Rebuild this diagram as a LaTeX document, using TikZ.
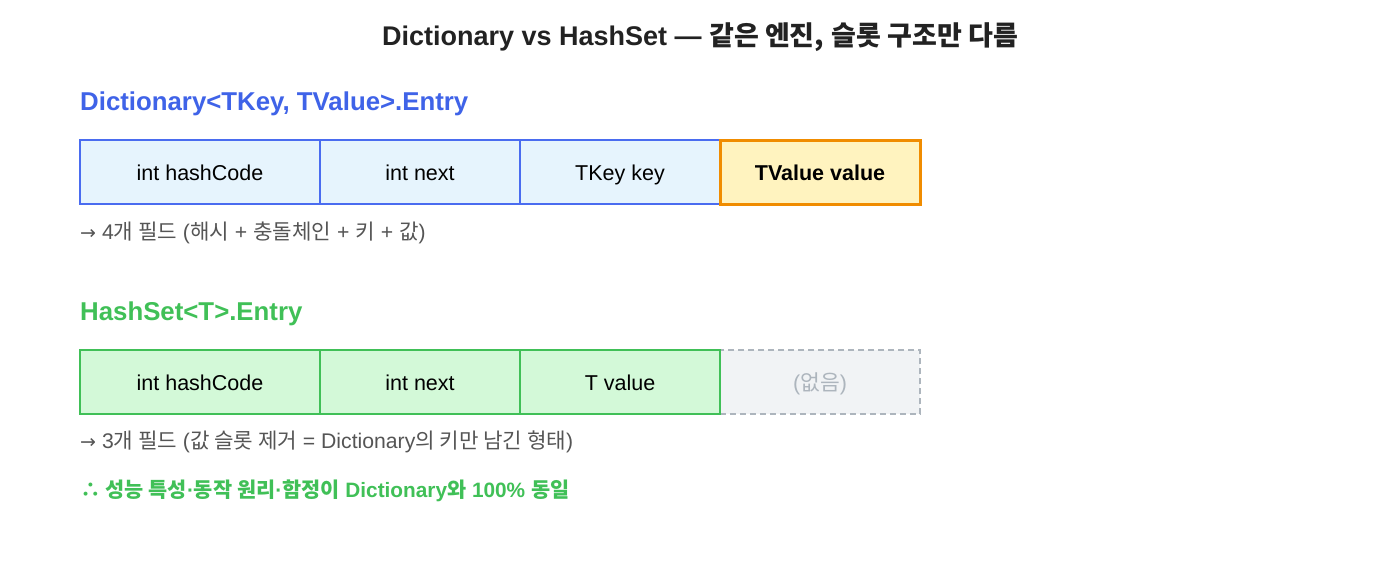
\documentclass[tikz,border=0pt]{standalone}
\usepackage{fontspec}
\setmainfont{Liberation Sans}
\newfontfamily\kr{Noto Sans CJK KR}
\newfontfamily\djvfont{DejaVu Sans}
\definecolor{blueC}{HTML}{4A6CF0}
\definecolor{blueH}{HTML}{3F63E8}
\definecolor{blueF}{HTML}{E6F4FD}
\definecolor{orangeC}{HTML}{F08C00}
\definecolor{orangeF}{HTML}{FFF3BF}
\definecolor{greenC}{HTML}{40C057}
\definecolor{greenF}{HTML}{D3F9D8}
\definecolor{grayC}{HTML}{ADB5BD}
\definecolor{grayF}{HTML}{F1F3F5}
\definecolor{noteC}{HTML}{555555}
\definecolor{titleC}{HTML}{222222}
\newcommand{\rarr}{{\djvfont\fontsize{19}{20}\selectfont →}}
\begin{document}
\begin{tikzpicture}[x=1pt,y=-1pt,
  cell/.style={rectangle, minimum height=64pt, inner sep=0pt, text height=16pt, text depth=0pt, font=\fontsize{21.5}{26}\selectfont, text=black},
  dcell/.style={cell, draw=blueC, fill=blueF, line width=1.5pt},
  hcell/.style={cell, draw=greenC, fill=greenF, line width=1.5pt},
  note/.style={anchor=west, inner sep=0pt, text height=14pt, text depth=4pt, text=noteC, font=\fontsize{21.2}{24}\selectfont},
  head/.style={anchor=west, inner sep=0pt, text height=18pt, text depth=5pt, font=\fontsize{25.8}{30}\selectfont\bfseries}]
\useasboundingbox (0,0) rectangle (1400,560);
\fill[white] (0,0) rectangle (1400,560);
\node[inner sep=0pt, text height=19pt, text depth=5pt, text=titleC, font=\fontsize{27}{32}\selectfont\bfseries] (title) at (700,38)
  {Dictionary vs HashSet — {\kr\bfseries 같은 엔진,} {\kr\bfseries 슬롯 구조만 다름}};
\node[head, text=blueH] (dhead) at (80,104) {Dictionary<TKey, TValue>.Entry};
\node[dcell, minimum width=240pt] (d1) at (200,172) {int hashCode};
\node[dcell, minimum width=200pt] (d2) at (420,172) {int next};
\node[dcell, minimum width=200pt] (d3) at (620,172) {TKey key};
\node[cell, draw=orangeC, fill=orangeF, line width=3pt, minimum width=200pt, font=\fontsize{21.5}{26}\selectfont\bfseries] (d4) at (820,172) {TValue value};
\node[note] (dnote) at (80,234) {\rarr\ 4{\kr 개 필드} ({\kr 해시} + {\kr 충돌체인} + {\kr 키} + {\kr 값})};
\node[head, text=greenC] (hhead) at (80,314) {HashSet<T>.Entry};
\node[cell, draw=grayC, fill=grayF, line width=1.5pt, dash pattern=on 6pt off 4pt, minimum width=200pt, text=grayC] (h4) at (820,382) {({\kr 없음})};
\node[hcell, minimum width=240pt] (h1) at (200,382) {int hashCode};
\node[hcell, minimum width=200pt] (h2) at (420,382) {int next};
\node[hcell, minimum width=200pt] (h3) at (620,382) {T value};
\node[note] (hnote) at (80,443) {\rarr\ 3{\kr 개 필드} ({\kr 값 슬롯 제거} = Dictionary{\kr 의 키만 남긴 형태})};
\node[note, text=greenC, font=\fontsize{20.8}{24}\selectfont\bfseries] (concl) at (80,492)
  {{\kr\bfseries ∴ 성능 특성}·{\kr\bfseries 동작 원리}·{\kr\bfseries 함정이} Dictionary{\kr\bfseries 와} 100\% {\kr\bfseries 동일}};
\end{tikzpicture}
\end{document}
